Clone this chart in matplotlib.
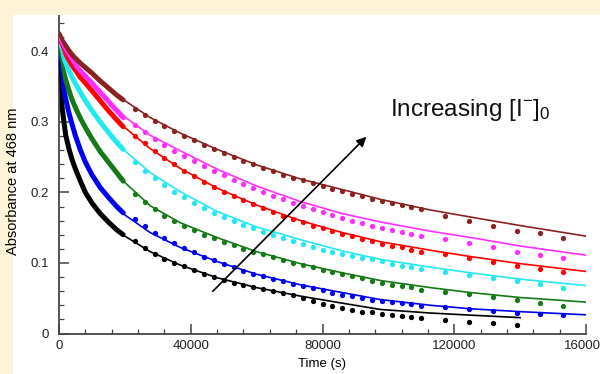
import numpy as np
import matplotlib.pyplot as plt
from matplotlib.patches import Rectangle

plt.rcParams['font.family'] = ['Liberation Sans', 'DejaVu Sans']
plt.rcParams['mathtext.fontset'] = 'custom'
plt.rcParams['mathtext.rm'] = 'Liberation Sans'
plt.rcParams['mathtext.it'] = 'Liberation Sans'

# series order: lowest [I-]0 (black) to highest (brown)
colors = ['#000000', '#0000f0', '#157a15', '#22e8f2', '#ff0000', '#ff2eff', '#8b2222']

# early, densely sampled data (s)
dense_t = [0, 500, 1000, 2000, 3000, 4000, 5000, 6500, 8000, 10000, 12500, 15000, 17500, 19500]
dense_a = [
    [0.39, 0.345, 0.318, 0.282, 0.262, 0.246, 0.233, 0.216, 0.200, 0.185, 0.170, 0.158, 0.147, 0.140],
    [0.40, 0.375, 0.358, 0.333, 0.313, 0.296, 0.280, 0.260, 0.243, 0.225, 0.207, 0.193, 0.180, 0.171],
    [0.405, 0.390, 0.378, 0.360, 0.345, 0.331, 0.320, 0.305, 0.292, 0.276, 0.258, 0.243, 0.228, 0.216],
    [0.410, 0.403, 0.396, 0.384, 0.373, 0.363, 0.354, 0.342, 0.330, 0.316, 0.300, 0.285, 0.271, 0.261],
    [0.415, 0.410, 0.405, 0.396, 0.388, 0.380, 0.373, 0.363, 0.355, 0.344, 0.330, 0.316, 0.303, 0.293],
    [0.418, 0.413, 0.408, 0.400, 0.393, 0.386, 0.380, 0.372, 0.365, 0.355, 0.342, 0.329, 0.316, 0.306],
    [0.425, 0.420, 0.415, 0.408, 0.401, 0.395, 0.390, 0.383, 0.377, 0.369, 0.358, 0.348, 0.338, 0.331],
]

# later data points
dot_t = [23000, 26000, 29000, 32000, 35000, 38000, 41000, 44000, 47000, 50000,
         53000, 56000, 59000, 62000, 65000, 68000, 71000, 74000, 77000, 80000,
         83000, 86000, 89000, 92000, 95000, 98000, 101000, 104000, 107000, 110000,
         117300, 124400, 131700, 138900, 146000, 153100]
dot_black = [0.131, 0.121, 0.113, 0.106, 0.100, 0.095, 0.090, 0.085, 0.080, 0.076,
             0.072, 0.069, 0.066, 0.063, 0.060, 0.057, 0.054, 0.050, 0.046, 0.042,
             0.039, 0.036, 0.033, 0.031, 0.030, 0.028, 0.026, 0.025, 0.023, 0.0215,
             0.019, 0.0163, 0.0145, 0.0125]
dot_blue = [0.162, 0.153, 0.143, 0.135, 0.128, 0.121, 0.115, 0.109, 0.104, 0.099,
            0.094, 0.089, 0.085, 0.081, 0.077, 0.074, 0.070, 0.067, 0.064, 0.061,
            0.058, 0.055, 0.053, 0.051, 0.048, 0.0457, 0.0447, 0.0437, 0.0418, 0.039,
            0.0372, 0.0343, 0.0319, 0.0295, 0.0277, 0.0258]
dot_green = [0.198, 0.187, 0.176, 0.167, 0.159, 0.152, 0.146, 0.140, 0.135, 0.130,
             0.125, 0.120, 0.116, 0.112, 0.108, 0.104, 0.100, 0.097, 0.094, 0.090,
             0.087, 0.084, 0.081, 0.078, 0.075, 0.072, 0.069, 0.067, 0.0655, 0.0617,
             0.0593, 0.056, 0.0513, 0.0475, 0.0437, 0.039]
dot_cyan = [0.243, 0.231, 0.220, 0.210, 0.201, 0.193, 0.185, 0.178, 0.171, 0.165,
            0.159, 0.154, 0.149, 0.144, 0.139, 0.135, 0.131, 0.127, 0.123, 0.119,
            0.116, 0.113, 0.110, 0.107, 0.105, 0.103, 0.0986, 0.0957, 0.0939, 0.091,
            0.0868, 0.083, 0.078, 0.0745, 0.0698, 0.065]
dot_red = [0.280, 0.270, 0.259, 0.249, 0.240, 0.231, 0.223, 0.215, 0.208, 0.201,
           0.195, 0.189, 0.183, 0.178, 0.172, 0.167, 0.162, 0.158, 0.153, 0.149,
           0.145, 0.141, 0.138, 0.134, 0.131, 0.127, 0.124, 0.122, 0.119, 0.1156,
           0.112, 0.1067, 0.1014, 0.0957, 0.091, 0.0868]
dot_magenta = [0.295, 0.285, 0.276, 0.267, 0.259, 0.251, 0.244, 0.237, 0.230, 0.224,
               0.218, 0.212, 0.206, 0.200, 0.195, 0.190, 0.185, 0.181, 0.177, 0.172,
               0.168, 0.164, 0.160, 0.157, 0.153, 0.150, 0.147, 0.144, 0.141, 0.138,
               0.134, 0.128, 0.122, 0.116, 0.111, 0.107]
dot_brown = [0.318, 0.309, 0.301, 0.294, 0.287, 0.280, 0.274, 0.267, 0.261, 0.256,
             0.250, 0.245, 0.240, 0.235, 0.230, 0.225, 0.221, 0.217, 0.213, 0.209,
             0.205, 0.202, 0.198, 0.195, 0.191, 0.188, 0.185, 0.182, 0.179, 0.176,
             0.167, 0.1596, 0.1525, 0.1454, 0.142, 0.136]
dots = [dot_black, dot_blue, dot_green, dot_cyan, dot_red, dot_magenta, dot_brown]

# fitted curves
fit_t = [0, 500, 1000, 2000, 3000, 5000, 7500, 10000, 15000, 20000, 27700, 36800,
         48000, 60000, 73300, 86000, 97700, 112800, 125000, 140000, 160000]
fit_black = [0.39, 0.345, 0.318, 0.282, 0.262, 0.233, 0.208, 0.185, 0.158, 0.138, 0.116,
             0.097, 0.079, 0.065, 0.053, 0.043, 0.034, 0.029, 0.026, 0.0225, np.nan]
fit_blue = [0.40, 0.375, 0.358, 0.333, 0.313, 0.28, 0.25, 0.225, 0.193, 0.168, 0.143,
            0.122, 0.102, 0.084, 0.069, 0.058, 0.048, 0.040, 0.035, 0.031, 0.0265]
fit_green = [0.405, 0.39, 0.378, 0.36, 0.345, 0.32, 0.298, 0.276, 0.243, 0.214, 0.181,
             0.157, 0.136, 0.116, 0.099, 0.086, 0.075, 0.065, 0.058, 0.051, 0.0445]
fit_cyan = [0.41, 0.403, 0.396, 0.384, 0.373, 0.354, 0.335, 0.316, 0.285, 0.259, 0.228,
            0.201, 0.173, 0.151, 0.133, 0.117, 0.105, 0.094, 0.086, 0.077, 0.068]
fit_red = [0.415, 0.41, 0.405, 0.396, 0.388, 0.373, 0.358, 0.344, 0.316, 0.292, 0.262,
           0.234, 0.206, 0.182, 0.16, 0.143, 0.13, 0.118, 0.109, 0.099, 0.088]
fit_magenta = [0.418, 0.413, 0.408, 0.4, 0.393, 0.38, 0.367, 0.355, 0.33, 0.307, 0.281,
               0.259, 0.233, 0.209, 0.187, 0.17, 0.158, 0.145, 0.136, 0.124, 0.111]
fit_brown = [0.425, 0.42, 0.415, 0.408, 0.401, 0.39, 0.379, 0.369, 0.348, 0.33, 0.306,
             0.284, 0.261, 0.239, 0.219, 0.204, 0.19, 0.175, 0.165, 0.153, 0.138]
fits = [fit_black, fit_blue, fit_green, fit_cyan, fit_red, fit_magenta, fit_brown]

fig = plt.figure(figsize=(6, 3.74), dpi=100)
fig.patch.set_facecolor('#fdf3d6')
fig.patches.append(Rectangle((13 / 600, 0), 1, (374 - 15) / 374, transform=fig.transFigure,
                             facecolor='white', edgecolor='none', zorder=-10))
ax = fig.add_axes([59 / 600, 40.5 / 374, 527 / 600, 317.5 / 374])
ax.set_zorder(5)
ax.patch.set_alpha(0)

for c, da, dt, ft in zip(colors, dense_a, dots, fits):
    ax.plot(dense_t, da, color=c, lw=3.6, solid_capstyle='round', zorder=2)
    ax.plot(dot_t[:len(dt)], dt, 'o', color=c, ms=3.8, mec='none', zorder=2)
    ax.plot(fit_t, ft, color=c, lw=1.2, zorder=3)

ax.annotate('', xy=(93900, 0.2816), xytext=(46100, 0.057),
            arrowprops=dict(arrowstyle='-|>', color='black', lw=1.2, mutation_scale=14))
ax.text(100600, 0.3085, r'Increasing [I$^{-}$]$_0$', fontsize=17.5, va='baseline', color='#111111')

ax.set_xlim(0, 160000)
ax.set_ylim(0, 0.45)
ax.set_xticks([0, 40000, 80000, 120000, 160000])
ax.set_xticklabels(['0', '40000', '80000', '120000', '160000'])
ax.set_xticks(np.arange(0, 160001, 8000), minor=True)
ax.set_yticks([0, 0.1, 0.2, 0.3, 0.4])
ax.set_yticklabels(['0', '0.1', '0.2', '0.3', '0.4'])
ax.set_yticks(np.arange(0, 0.45, 0.02), minor=True)
ax.tick_params(which='both', direction='in', color='#444444', labelsize=9.5, labelcolor='#222222')
ax.tick_params(which='major', length=7, width=1.1)
ax.tick_params(axis='x', which='major', pad=5)
ax.tick_params(axis='y', which='major', pad=7)
ax.tick_params(which='minor', length=3.5, width=0.9)
for s in ['top', 'right']:
    ax.spines[s].set_visible(False)
for s in ['left', 'bottom']:
    ax.spines[s].set_color('#444444')
    ax.spines[s].set_linewidth(1.3)
ax.set_xlabel('Time (s)', fontsize=9.5, labelpad=4)
ax.set_ylabel('Absorbance at 468 nm', fontsize=10.5)
ax.yaxis.set_label_coords(-0.074, 0.48)

fig.savefig('out.png', dpi=100, facecolor=fig.get_facecolor())
